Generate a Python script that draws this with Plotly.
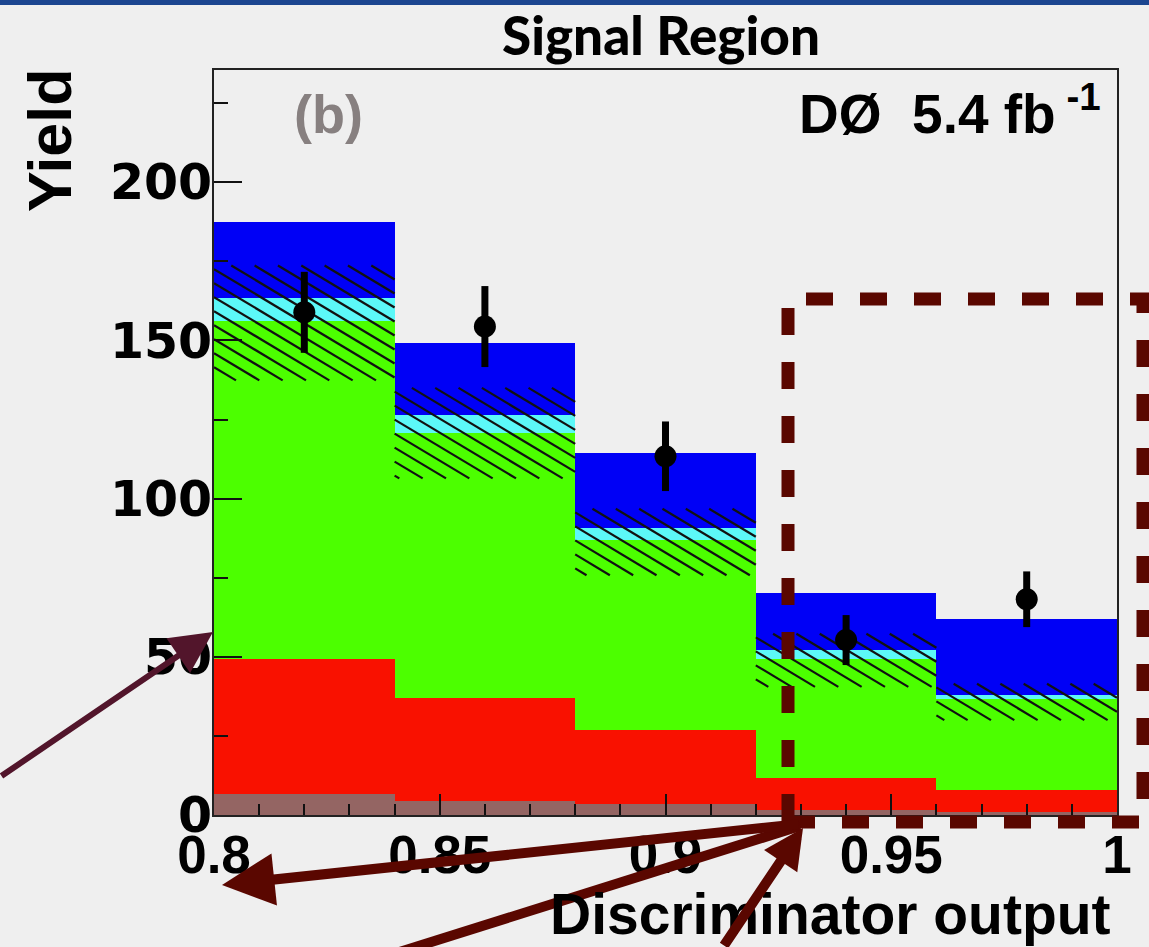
import numpy as np
import plotly.graph_objects as go

# ---- histogram data (yield per bin) ----
bin_edges = [0.80, 0.84, 0.88, 0.92, 0.96, 1.00]
bin_centers = [0.82, 0.86, 0.90, 0.94, 0.98]

yield_brown = [6.5, 4.4, 3.6, 1.6, 1.0]
yield_red = [42.8, 32.7, 23.2, 10.2, 6.9]
yield_green = [107.0, 83.6, 60.1, 37.5, 28.7]
yield_cyan = [7.0, 5.6, 3.9, 2.8, 1.3]
yield_blue = [24.0, 22.8, 23.7, 18.2, 24.2]

# background uncertainty band (hatched)
unc_lo = [137.4, 106.4, 75.8, 40.5, 30.0]
unc_hi = [173.7, 135.0, 96.8, 57.3, 41.5]

# observed data
data_y = [158.9, 154.4, 113.4, 55.3, 68.2]
data_err = [12.8, 12.8, 11.0, 7.9, 8.8]

x_ticks = [0.8, 0.85, 0.9, 0.95, 1.0]
x_ticktext = ["0.8", "0.85", "0.9", "0.95", "1"]
y_ticks = [0, 50, 100, 150, 200]

# ---- figure geometry ----
W, H = 1149, 947
L, R, T, B = 214, 32, 70, 132
PW, PH = W - L - R, H - T - B
X_RANGE = [0.8, 1.0]
Y_RANGE = [0, 235.5]


def px(x):
    return (x - L) / PW


def py(y):
    return (H - B - y) / PH


fig = go.Figure()

colors = ["#946563", "#f91100", "#4cff00", "#5cf8f8", "#0000f6"]
for vals, col in zip([yield_brown, yield_red, yield_green, yield_cyan, yield_blue], colors):
    fig.add_trace(go.Bar(x=bin_centers, y=vals, width=0.04, marker=dict(color=col, line=dict(width=0)),
                         hoverinfo="skip", showlegend=False))

# ---- hatched uncertainty band: diagonal lines clipped to each bin ----
ppx = PW / (X_RANGE[1] - X_RANGE[0])
ppy = PH / (Y_RANGE[1] - Y_RANGE[0])
slope = 0.6      # screen pixels down per pixel right
spacing = 14.0   # vertical spacing between hatch lines, pixels
hx, hy = [], []
for i in range(len(bin_centers)):
    x0, x1 = bin_edges[i], bin_edges[i + 1]
    lo, hi = unc_lo[i], unc_hi[i]
    wpx = (x1 - x0) * ppx
    hpx = (hi - lo) * ppy
    c = -slope * wpx
    while c < hpx:
        u0 = max(0.0, -c / slope)
        u1 = min(wpx, (hpx - c) / slope)
        if u1 > u0:
            for u in (u0, u1):
                hx.append(x0 + u / ppx)
                hy.append(hi - (slope * u + c) / ppy)
            hx.append(None)
            hy.append(None)
        c += spacing
fig.add_trace(go.Scatter(x=hx, y=hy, mode="lines", line=dict(color="#111", width=2.2),
                         hoverinfo="skip", showlegend=False))

# ---- data points ----
fig.add_trace(go.Scatter(x=bin_centers, y=data_y, mode="markers",
                         marker=dict(color="black", size=22),
                         error_y=dict(type="data", array=data_err, color="black", thickness=7, width=0),
                         hoverinfo="skip", showlegend=False))

axis_font = "Liberation Sans, Arial, sans-serif"
fig.update_layout(
    width=W, height=H,
    margin=dict(l=L, r=R, t=T, b=B, pad=0),
    paper_bgcolor="#efefef", plot_bgcolor="#efefef",
    barmode="stack", bargap=0,
    xaxis=dict(range=X_RANGE, tickvals=x_ticks, ticktext=x_ticktext,
               ticks="inside", ticklen=21, tickwidth=2, tickcolor="#111",
               minor=dict(dtick=0.01, ticks="inside", ticklen=11, tickwidth=2, tickcolor="#111"),
               showline=True, linecolor="#222", linewidth=2, mirror=True, showgrid=False, zeroline=False,
               tickfont=dict(family=axis_font, size=53, color="black", weight="bold"),
               ticklabelstandoff=-8),
    yaxis=dict(range=Y_RANGE, tickvals=y_ticks,
               ticks="inside", ticklen=28, tickwidth=2, tickcolor="#111",
               minor=dict(dtick=25, ticks="inside", ticklen=14, tickwidth=2, tickcolor="#111"),
               showline=True, linecolor="#222", linewidth=2, mirror=True, showgrid=False, zeroline=False,
               tickfont=dict(family="DejaVu Sans, Liberation Sans", size=49, color="black", weight="bold"),
               ticklabelstandoff=-10),
)

annotations = [
    dict(text="Signal Region", x=px(661), y=py(35), xref="paper", yref="paper", showarrow=False,
         xanchor="center", yanchor="middle",
         font=dict(family="Lato, Open Sans, sans-serif", size=53, color="black", weight=900)),
    dict(text="Yield", x=px(50), y=py(140), xref="paper", yref="paper", showarrow=False,
         textangle=-90, xanchor="center", yanchor="middle",
         font=dict(family=axis_font, size=61, color="black", weight="bold")),
    dict(text="Discriminator output", x=px(1113), y=py(914), xref="paper", yref="paper", showarrow=False,
         xanchor="right", yanchor="middle",
         font=dict(family=axis_font, size=57, color="black", weight="bold")),
    dict(text="(b)", x=px(328), y=py(114), xref="paper", yref="paper", showarrow=False,
         xanchor="center", yanchor="middle",
         font=dict(family=axis_font, size=54, color="#878080", weight="bold")),
    dict(text="DØ  5.4 fb<sup> -1</sup>", x=px(1103), y=py(110), xref="paper", yref="paper", showarrow=False,
         xanchor="right", yanchor="middle",
         font=dict(family=axis_font, size=55, color="black", weight="bold")),
    # pointer arrows
    dict(text="", x=px(213), y=py(632), xref="paper", yref="paper", showarrow=True,
         ax=-215, ay=145, arrowhead=2, arrowsize=1.4, arrowwidth=6, arrowcolor="#52152b"),
    dict(text="", x=px(222), y=py(885), xref="paper", yref="paper", showarrow=True,
         ax=578, ay=-61, arrowhead=2, arrowsize=1.05, arrowwidth=10, arrowcolor="#5a0700"),
    dict(text="", x=px(803), y=py(828), xref="paper", yref="paper", showarrow=True,
         ax=-80, ay=124, arrowhead=2, arrowsize=0.8, arrowwidth=10, arrowcolor="#5a0700"),
]
fig.update_layout(annotations=annotations)

shapes = [
    # slide header strip
    dict(type="rect", xref="paper", yref="paper", x0=px(0), x1=px(W), y0=py(0), y1=py(5),
         line=dict(width=0), fillcolor="#1c4690", layer="above"),
    # highlighted region
    dict(type="rect", xref="paper", yref="paper", x0=px(788), x1=px(1143), y0=py(822), y1=py(299),
         line=dict(color="#5a0700", width=13, dash="27px,27px"), fillcolor="rgba(0,0,0,0)", layer="above"),
    # pointer line running off the bottom
    dict(type="line", xref="paper", yref="paper", x0=px(800), y0=py(826), x1=px(390), y1=py(955),
         line=dict(color="#5a0700", width=10), layer="above"),
]
fig.update_layout(shapes=shapes)

fig.write_html("out.html")
